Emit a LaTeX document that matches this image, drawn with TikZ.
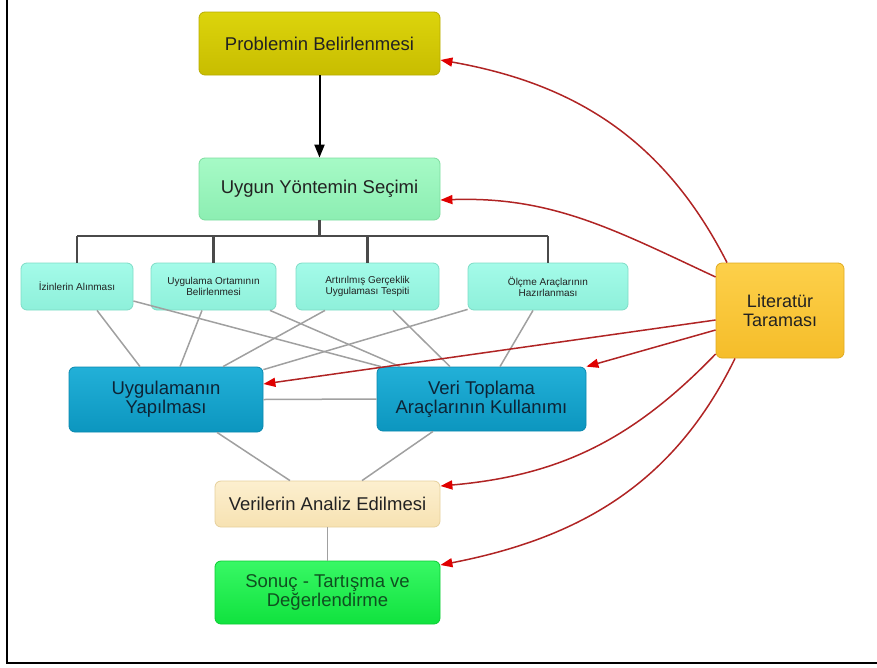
\documentclass[tikz,border=0pt]{standalone}
\usepackage{fontspec}
\setmainfont{Liberation Sans}
\usetikzlibrary{arrows.meta,calc}
\definecolor{probT}{HTML}{DCD40C}
\definecolor{probB}{HTML}{C8BD00}
\definecolor{probD}{HTML}{B8AC00}
\definecolor{uygT}{HTML}{A6FAC6}
\definecolor{uygB}{HTML}{8CEEB2}
\definecolor{uygD}{HTML}{7DDC9F}
\definecolor{smT}{HTML}{A4FBE9}
\definecolor{smB}{HTML}{8EF0DA}
\definecolor{smD}{HTML}{7EDCC6}
\definecolor{litT}{HTML}{FDD04A}
\definecolor{litB}{HTML}{F5BD2A}
\definecolor{litD}{HTML}{E0AA20}
\definecolor{bluT}{HTML}{22B0D8}
\definecolor{bluB}{HTML}{0C96BF}
\definecolor{bluD}{HTML}{0A88AE}
\definecolor{anT}{HTML}{FCEFCF}
\definecolor{anB}{HTML}{F7E2B2}
\definecolor{anD}{HTML}{E6D09C}
\definecolor{soT}{HTML}{38F865}
\definecolor{soB}{HTML}{10E23E}
\definecolor{soD}{HTML}{0CCC34}
\definecolor{txt}{HTML}{222222}
\definecolor{blutxt}{HTML}{0D2436}
\definecolor{sotxt}{HTML}{0F5020}
\definecolor{rline}{HTML}{B02424}
\definecolor{rtip}{HTML}{E00000}
\definecolor{gline}{HTML}{A0A0A0}
\definecolor{bline}{HTML}{4A4A4A}
\begin{document}
\begin{tikzpicture}[x=1pt,y=1pt,
  box/.style={rounded corners=6pt, inner sep=0pt, align=center, text=txt, line width=0.8pt},
  big/.style={box, font=\fontsize{18.5}{19}\selectfont},
  small/.style={box, font=\fontsize{10}{11}\selectfont, top color=smT, bottom color=smB, draw=smD, minimum height=47pt},
  blue/.style={box, font=\fontsize{18.5}{19}\selectfont, text=blutxt, top color=bluT, bottom color=bluB, draw=bluD},
  redarr/.style={draw=rline, line width=1.5pt, -{Triangle[length=12pt,width=9pt,color=rtip]}},
  gray/.style={draw=gline, line width=1.5pt},
  brack/.style={draw=bline, line width=2.2pt}
]
\useasboundingbox (0,0) rectangle (877,-667);
\draw[line width=2.2pt] (7,0) -- (7,-663) -- (877,-663);

\node[big, top color=probT, bottom color=probB, draw=probD, minimum width=241pt, minimum height=63pt] (prob) at (319.5,-43.5) {Problemin Belirlenmesi};
\node[big, top color=uygT, bottom color=uygB, draw=uygD, minimum width=241pt, minimum height=62pt] (uygun) at (319.5,-189) {Uygun Yöntemin Seçimi};

\node[small, minimum width=112pt] (s1) at (77,-286.5) {İzinlerin Alınması};
\node[small, minimum width=125pt] (s2) at (213.5,-286.5) {Uygulama Ortamının\\Belirlenmesi};
\node[small, minimum width=143pt] (s3) at (367.5,-286.5) {Artırılmış Gerçeklik\\Uygulaması Tespiti};
\node[small, minimum width=160pt] (s4) at (548,-286.5) {Ölçme Araçlarının\\Hazırlanması};

\node[box, font=\fontsize{18}{19.5}\selectfont, top color=litT, bottom color=litB, draw=litD, minimum width=128pt, minimum height=95pt] (lit) at (780,-310.5) {Literatür\\Taraması};

\node[blue, minimum width=194pt, minimum height=65pt] (uyg) at (166,-399.5) {Uygulamanın\\Yapılması};
\node[blue, minimum width=209pt, minimum height=64pt] (veri) at (481.5,-399) {Veri Toplama\\Araçlarının Kullanımı};

\node[big, top color=anT, bottom color=anB, draw=anD, minimum width=225pt, minimum height=46pt] (analiz) at (327.5,-504) {Verilerin Analiz Edilmesi};
\node[big, text=sotxt, top color=soT, bottom color=soB, draw=soD, minimum width=225pt, minimum height=63pt] (sonuc) at (327.5,-592.5) {Sonuç - Tartışma ve\\Değerlendirme};

% black arrow
\draw[line width=2pt, -{Triangle[length=13pt,width=10pt]}] (prob.south) -- (uygun.north);

% bracket
\coordinate (bk) at (319.5,-236);
\draw[brack] (uygun.south) -- (bk);
\draw[brack] (s1.north |- bk) -- (s4.north |- bk);
\draw[brack] (s1.north |- bk) -- (s1.north);
\draw[brack] (s2.north |- bk) -- (s2.north);
\draw[brack] (s3.north |- bk) -- (s3.north);
\draw[brack] (s4.north |- bk) -- (s4.north);

% gray connectors
\draw[gray] ([xshift=20pt]s1.south) -- ([xshift=-26pt]uyg.north);
\draw[gray] ([yshift=-14.5pt]s1.east) -- ([xshift=-100.5pt]veri.north);
\draw[gray] ([xshift=-11.5pt]s2.south) -- ([xshift=14pt]uyg.north);
\draw[gray] ([xshift=56.5pt]s2.south) -- ([xshift=-81.5pt]veri.north);
\draw[gray] ([xshift=-42.5pt]s3.south) -- ([xshift=57pt]uyg.north);
\draw[gray] ([xshift=25.5pt]s3.south) -- ([xshift=-31.5pt]veri.north);
\draw[gray] ([yshift=1pt]s4.south west) -- ([yshift=-3pt]uyg.north east);
\draw[gray] ([xshift=-15pt]s4.south) -- ([xshift=18.5pt]veri.north);
\draw[gray] (uyg.east) -- (veri.west);
\draw[gray] ([xshift=51pt]uyg.south) -- ([xshift=-37.5pt]analiz.north);
\draw[gray] ([xshift=-48.5pt]veri.south) -- ([xshift=34.5pt]analiz.north);
\draw[gray] (analiz.south) -- (sonuc.north);

% red arrows from Literatur Taramasi
\draw[redarr] ([xshift=-53pt]lit.north) to[out=117,in=-10] ([yshift=-16.5pt]prob.east);
\draw[redarr] ([yshift=33.5pt]lit.west) to[out=155,in=2] ([yshift=-11pt]uygun.east);
\draw[redarr] ([yshift=-9.5pt]lit.west) -- ([yshift=15.5pt]uyg.east);
\draw[redarr] ([yshift=-19.5pt]lit.west) -- (veri.north east);
\draw[redarr] ([yshift=-43.5pt]lit.west) to[out=226,in=5] ([yshift=18pt]analiz.east);
\draw[redarr] ([xshift=-45pt]lit.south) to[out=244,in=11] ([yshift=27.5pt]sonuc.east);
\end{tikzpicture}
\end{document}
